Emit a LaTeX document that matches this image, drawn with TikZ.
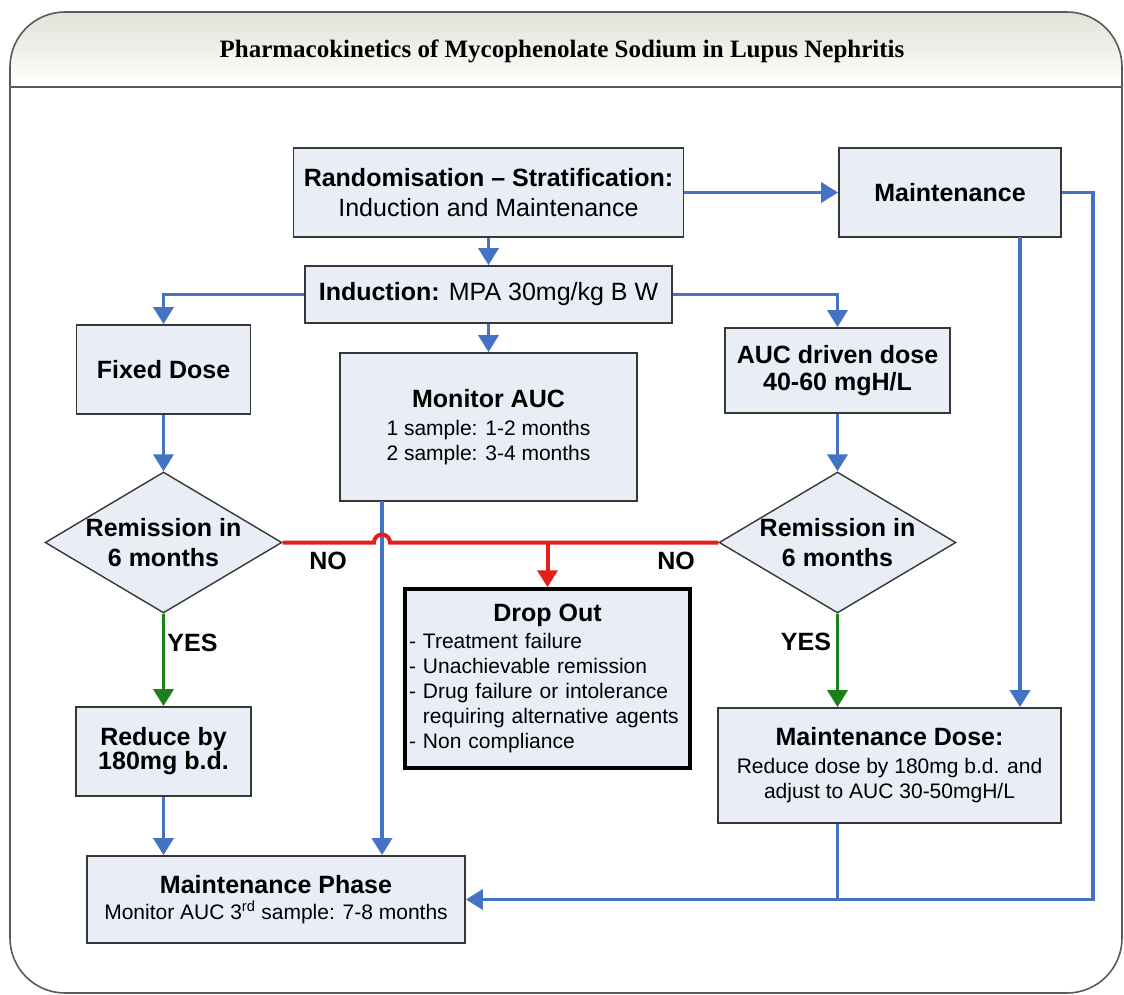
\documentclass[tikz,border=0pt]{standalone}
\usepackage{fontspec}
\setmainfont{Liberation Sans}
\newfontfamily\titlefont{Liberation Serif}
\usetikzlibrary{shapes.geometric,arrows.meta,calc}

\definecolor{boxfill}{RGB}{232,237,246}
\definecolor{boxline}{RGB}{55,55,55}
\definecolor{flowblue}{RGB}{68,114,196}
\definecolor{nored}{RGB}{228,30,30}
\definecolor{yesgreen}{RGB}{24,130,24}
\definecolor{hdrtop}{RGB}{226,226,216}
\definecolor{framegray}{RGB}{90,90,90}

\newcommand{\headsize}{\fontsize{25}{30}\selectfont}
\newcommand{\bodysize}{\fontsize{21}{25}\selectfont}

\begin{document}
\begin{tikzpicture}
        [x=1pt, y=-1pt,
        box/.style={rectangle, draw=boxline, fill=boxfill, line width=1.8pt, inner sep=2pt, align=center, font=\headsize},
        decision/.style={diamond, aspect=1.68, draw=boxline, fill=boxfill, line width=1.4pt, inner sep=0pt,
            minimum width=234pt, minimum height=139pt, align=center, font=\headsize\bfseries},
        flow/.style={flowblue, line width=3.6pt, -{Triangle[width=20pt,length=17pt]}},
        feed/.style={flowblue, line width=3.6pt},
        yesline/.style={yesgreen, line width=3.6pt, -{Triangle[width=20pt,length=17pt]}},
        noline/.style={nored, line width=4pt},
        answer/.style={font=\headsize\bfseries}]

        \useasboundingbox (0,0) rectangle (1124,995);
        \fill[white] (0,0) rectangle (1124,995);

        % frame with header
        \begin{scope}
            \clip[rounded corners=55pt] (10,12) rectangle (1122,993);
            \fill[top color=hdrtop, bottom color=white] (10,12) rectangle (1122,87);
        \end{scope}
        \draw[framegray, line width=1.6pt, rounded corners=55pt] (10,12) rectangle (1122,993);
        \draw[framegray, line width=2.6pt] (10,87) -- (1122,87);
        \node[font=\titlefont\bfseries\fontsize{25}{30}\selectfont] (title) at (562,51) {Pharmacokinetics of Mycophenolate Sodium in Lupus Nephritis};

        % boxes
        \node[box, minimum width=390pt, minimum height=89pt] (rand) at (488.5,192.5) {\textbf{Randomisation – Stratification:}\\Induction and Maintenance};
        \node[box, minimum width=222pt, minimum height=89pt, font=\headsize\bfseries] (maint) at (950,192.5) {Maintenance};
        \node[box, minimum width=367pt, minimum height=57pt] (induct) at (488.5,294.5) {\textbf{Induction:} MPA 30mg/kg B W};
        \node[box, minimum width=174pt, minimum height=89pt, font=\headsize\bfseries] (fixed) at (163.5,369.5) {Fixed Dose};
        \node[box, minimum width=297pt, minimum height=148pt, font=\bodysize] (monitor) at (488.5,427)
            {{\headsize\bfseries Monitor AUC}\\[3pt]1 sample: 1-2 months\\2 sample: 3-4 months};
        \node[box, minimum width=225pt, minimum height=85pt, font=\fontsize{25}{27}\selectfont\bfseries] (auc) at (837.5,370.5) {AUC driven dose\\40-60 mgH/L};
        \node[decision] (remL) at (163.5,542.5) {Remission in\\6 months};
        \node[decision] (remR) at (837.5,542.5) {Remission in\\6 months};
        \node[box, draw=black, line width=3.5pt, minimum width=285pt, minimum height=179pt, text width=277pt, align=left, font=\bodysize] (dropout) at (547.5,678.5)
            {\makebox[\linewidth]{\headsize\bfseries Drop Out}\\[2pt]- Treatment failure\\- Unachievable remission\\- Drug failure or intolerance\\\hphantom{- }requiring alternative agents\\- Non compliance};
        \node[box, minimum width=175pt, minimum height=89pt, font=\fontsize{25}{24}\selectfont\bfseries] (reduce) at (163.5,751.5) {Reduce by\\180mg b.d.};
        \node[box, minimum width=343pt, minimum height=115pt, font=\bodysize] (mdose) at (889.5,765.5)
            {{\headsize\bfseries Maintenance Dose:}\\[3pt]Reduce dose by 180mg b.d. and\\adjust to AUC 30-50mgH/L};
        \node[box, minimum width=378pt, minimum height=87pt, font=\bodysize] (mphase) at (276,899.5)
            {{\headsize\bfseries Maintenance Phase}\\[1pt]Monitor AUC 3\textsuperscript{rd} sample: 7-8 months};

        % answers
        \node[answer] (noL) at (328,561) {NO};
        \node[answer] (noR) at (676,561) {NO};
        \node[answer] (yesL) at (192.5,643) {YES};
        \node[answer] (yesR) at (806,642) {YES};

        % blue flow
        \coordinate (mon) at (382,501);
        \coordinate (mnt) at (1020,237);
        \draw[flow] (rand) -- (induct);
        \draw[flow] (rand) -- (maint);
        \draw[flow] (induct) -- (monitor);
        \draw[flow] (induct.west) -| (fixed.north);
        \draw[flow] (induct.east) -| (auc.north);
        \draw[flow] (fixed) -- (remL);
        \draw[flow] (auc) -- (remR);
        \draw[flow] (reduce.south) -- (reduce.south |- mphase.north);
        \draw[flow] (mon) -- (mon |- mphase.north);
        \draw[flow] (mnt) -- (mnt |- mdose.north);
        \draw[flow] (maint.east) -- ++(31,0) |- (mphase.east);
        \draw[feed] (remR.south |- mdose.south) -- (remR.south |- mphase.east);

        % yes edges
        \draw[yesline] (remL) -- (reduce);
        \draw[yesline] (remR.south) -- (remR.south |- mdose.north);

        % no edges, hopping over the monitor line
        \coordinate (hop) at (remL.east -| mon);
        \draw[noline] (remL.east) -- ($(hop)+(-8pt,0)$) arc[start angle=180, end angle=0, radius=8pt] -- (remR.west);
        \draw[noline, -{Triangle[width=20pt,length=17pt]}] (remL.east -| dropout.north) -- (dropout.north);

\end{tikzpicture}
\end{document}
